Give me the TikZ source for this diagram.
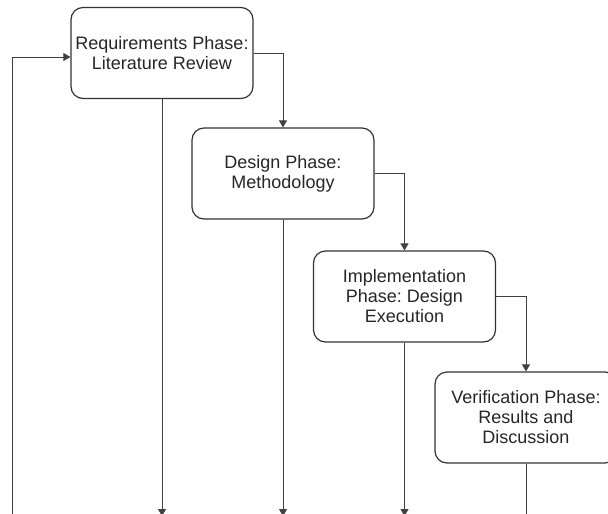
\documentclass[tikz,border=0pt]{standalone}
\usepackage{fontspec}
\setmainfont{Liberation Sans}
\frenchspacing
\usetikzlibrary{positioning,arrows.meta}

\begin{document}
\begin{tikzpicture}[
  x=1pt, y=-1pt,
  font=\fontsize{18}{20}\selectfont,
  phase/.style={draw=black!80, line width=1.2pt, rounded corners=12pt, minimum width=182pt, minimum height=91pt, inner sep=0pt, align=center, text=black!85},
  flow/.style={draw=black!75, line width=1pt, -{Triangle[length=7pt, width=8pt]}}
]

\path[use as bounding box, clip] (0,0) rectangle (608,514);

% Phases
\node[phase] (req) at (162, 53) {Requirements Phase:\\Literature Review};
\node[phase] (des) at (283, 173.5) {Design Phase:\\Methodology};
\node[phase] (imp) at (404.5, 296.5) {Implementation\\Phase: Design\\Execution};
\node[phase] (ver) at (526, 417.5) {Verification Phase:\\Results and\\Discussion};

% Ends at the bottom edge
\coordinate (reqout) at (162, 516);
\coordinate (desout) at (283, 516);
\coordinate (impout) at (404.5, 516);
\coordinate (verout) at (526, 514);
\coordinate (back) at (12, 514);

% Waterfall
\draw[flow] (req.east) -| (des.north);
\draw[flow] (des.east) -| (imp.north);
\draw[flow] (imp.east) -| (ver.north);

% Down lines
\draw[flow] (req.south) -- (reqout);
\draw[flow] (des.south) -- (desout);
\draw[flow] (imp.south) -- (impout);
\draw[draw=black!75, line width=1pt] (ver.south) -- (verout);

% Feedback
\draw[flow] (back) |- ([yshift=-4pt]req.west);

\end{tikzpicture}
\end{document}
